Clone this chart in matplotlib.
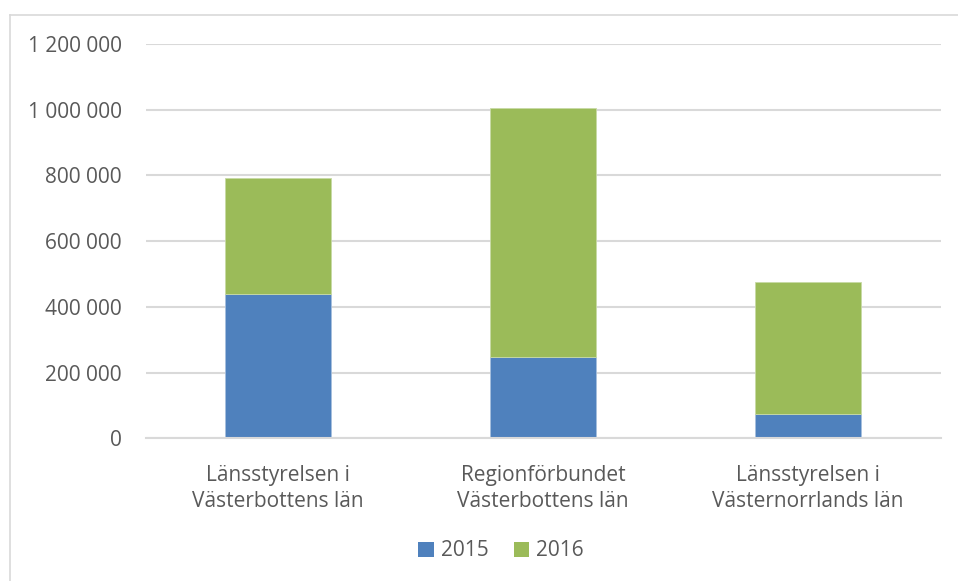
import matplotlib.pyplot as plt
from matplotlib.lines import Line2D
from matplotlib.ticker import FuncFormatter
from matplotlib.patches import Patch

plt.rcParams['font.family'] = ['Open Sans', 'DejaVu Sans']

categories = ['Länsstyrelsen i\nVästerbottens län',
              'Regionförbundet\nVästerbottens län',
              'Länsstyrelsen i\nVästernorrlands län']
values_2015 = [440000, 248000, 75000]
values_2016 = [353000, 757000, 400000]
series_labels = ['2015', '2016']
y_ticks = [0, 200000, 400000, 600000, 800000, 1000000, 1200000]

BLUE = '#4F81BD'
GREEN = '#9BBB59'
GRID = '#D9D9D9'
TEXT = '#595959'

W, H = 958, 581
fig = plt.figure(figsize=(W / 100, H / 100), dpi=100)

# plot area in pixels
left, right, top, bottom = 145.5, 940.5, 44, 438.3
ax = fig.add_axes([left / W, 1 - bottom / H, (right - left) / W, (bottom - top) / H])

x = range(len(categories))
ax.bar(x, values_2015, width=0.4, color=BLUE, edgecolor='#A7C0DE', linewidth=0.6,
       label=series_labels[0], zorder=3)
ax.bar(x, values_2016, width=0.4, bottom=values_2015, color=GREEN, edgecolor='#C8DAA6',
       linewidth=0.6, label=series_labels[1], zorder=3)

ax.set_xlim(-0.5, len(categories) - 0.5)
ax.set_ylim(0, 1200000)
ax.set_yticks(y_ticks)
ax.yaxis.set_major_formatter(FuncFormatter(lambda v, _: f'{v:,.0f}'.replace(',', ' ')))
ax.set_xticks(list(x))
ax.set_xticklabels(categories, linespacing=1.35)

ax.grid(axis='y', color=GRID, linewidth=1.5, zorder=0)
ax.set_axisbelow(True)
for s in ['top', 'right', 'left']:
    ax.spines[s].set_visible(False)
ax.spines['bottom'].set_color(GRID)
ax.spines['bottom'].set_linewidth(1.5)
ax.spines['bottom'].set_zorder(4)

ax.tick_params(axis='y', length=0, pad=17, labelsize=15, labelcolor=TEXT)
ax.tick_params(axis='x', length=0, pad=19, labelsize=15, labelcolor=TEXT)

handles = [Patch(facecolor=BLUE, label=series_labels[0]),
           Patch(facecolor=GREEN, label=series_labels[1])]
fig.legend(handles=handles, loc='center', bbox_to_anchor=(501 / W, 1 - 551 / H),
           ncol=2, frameon=False, fontsize=15, labelcolor=TEXT,
           handlelength=0.75, handleheight=0.75, handletextpad=0.35, columnspacing=1.2)

# outer chart frame (cropped at right and bottom)
fig.add_artist(Line2D([9.5 / W, 1], [1 - 14.5 / H, 1 - 14.5 / H], color=GRID, linewidth=1.2))
fig.add_artist(Line2D([9.5 / W, 9.5 / W], [0, 1 - 14.5 / H], color=GRID, linewidth=1.2))

fig.savefig('out.png', dpi=100)
